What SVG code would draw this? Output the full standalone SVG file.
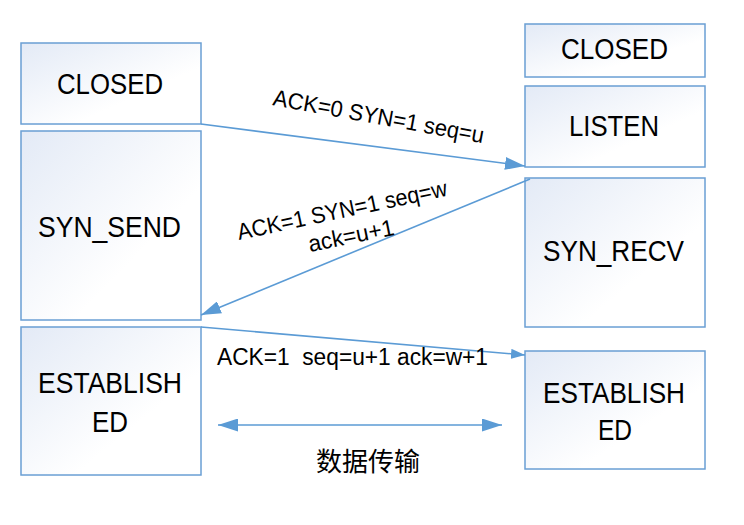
<svg xmlns="http://www.w3.org/2000/svg" width="744" height="525" viewBox="0 0 744 525">
<defs>
<linearGradient id="boxfill" x1="0" y1="0" x2="1" y2="1">
<stop offset="0" stop-color="#e3eaf6"/>
<stop offset="0.65" stop-color="#ffffff"/>
</linearGradient>
<marker id="ah" markerUnits="userSpaceOnUse" markerWidth="20" markerHeight="13" refX="20" refY="6.5" orient="auto-start-reverse" viewBox="0 0 20 13">
<path d="M0,0 L20,6.5 L0,13 z" fill="#5b9bd5"/>
</marker>
<marker id="ahs" markerUnits="userSpaceOnUse" markerWidth="14" markerHeight="10" refX="14" refY="5" orient="auto" viewBox="0 0 14 10">
<path d="M0,0 L14,5 L0,10 z" fill="#5b9bd5"/>
</marker>
</defs>
<style>
.box{fill:url(#boxfill);stroke:#6a9fd4;stroke-width:1.5}
.nt{font-family:"Liberation Sans",Arial,sans-serif;font-size:29px;fill:#000;text-anchor:middle}
.lb{font-family:"Liberation Sans",Arial,sans-serif;font-size:23px;fill:#000;white-space:pre}
.cn{font-family:"Noto Sans CJK SC",sans-serif;font-size:26px;fill:#000;text-anchor:middle}
.ln{stroke:#5b9bd5;stroke-width:1.6;fill:none}
</style>
<rect width="744" height="525" fill="#ffffff"/>

<g id="client-closed">
<rect class="box" x="21" y="43" width="180" height="81"/>
<text class="nt" x="110" y="94" textLength="106" lengthAdjust="spacingAndGlyphs">CLOSED</text>
</g>
<g id="client-syn-send">
<rect class="box" x="21" y="131" width="180" height="189"/>
<text class="nt" x="109.5" y="237" textLength="143" lengthAdjust="spacingAndGlyphs">SYN_SEND</text>
</g>
<g id="client-established">
<rect class="box" x="21" y="327" width="180" height="148"/>
<text class="nt" x="110" y="393" textLength="144" lengthAdjust="spacingAndGlyphs">ESTABLISH</text>
<text class="nt" x="110" y="432" textLength="36" lengthAdjust="spacingAndGlyphs">ED</text>
</g>
<g id="server-closed">
<rect class="box" x="525" y="24" width="180" height="53"/>
<text class="nt" x="614.5" y="59" textLength="107" lengthAdjust="spacingAndGlyphs">CLOSED</text>
</g>
<g id="server-listen">
<rect class="box" x="525" y="86" width="180" height="81"/>
<text class="nt" x="614" y="136" textLength="90" lengthAdjust="spacingAndGlyphs">LISTEN</text>
</g>
<g id="server-syn-recv">
<rect class="box" x="525" y="178" width="180" height="149"/>
<text class="nt" x="613.5" y="261" textLength="141" lengthAdjust="spacingAndGlyphs">SYN_RECV</text>
</g>
<g id="server-established">
<rect class="box" x="525" y="351" width="180" height="118"/>
<text class="nt" x="614" y="403" textLength="142" lengthAdjust="spacingAndGlyphs">ESTABLISH</text>
<text class="nt" x="615" y="440" textLength="34" lengthAdjust="spacingAndGlyphs">ED</text>
</g>

<g id="connectors">
<line class="ln" x1="201" y1="124" x2="525" y2="166" marker-end="url(#ah)"/>
<line class="ln" x1="530" y1="179" x2="201" y2="315" marker-end="url(#ah)"/>
<line class="ln" x1="201" y1="327" x2="525" y2="355" marker-end="url(#ahs)"/>
<line class="ln" x1="218" y1="425" x2="502" y2="425" marker-start="url(#ah)" marker-end="url(#ah)"/>
</g>

<g id="labels">
<text class="lb" transform="translate(272,105) rotate(10.3)" x="0" y="0" textLength="214" lengthAdjust="spacingAndGlyphs">ACK=0 SYN=1 seq=u</text>
<text class="lb" transform="translate(239,240) rotate(-12)" x="0" y="0" textLength="214" lengthAdjust="spacingAndGlyphs">ACK=1 SYN=1 seq=w</text>
<text class="lb" transform="translate(310,252) rotate(-11.5)" x="0" y="0" textLength="87" lengthAdjust="spacingAndGlyphs">ack=u+1</text>
<text class="lb" x="217" y="365" font-size="24" textLength="271" lengthAdjust="spacingAndGlyphs">ACK=1  seq=u+1 ack=w+1</text>
<text class="cn" x="368" y="471">数据传输</text>
</g>
</svg>
